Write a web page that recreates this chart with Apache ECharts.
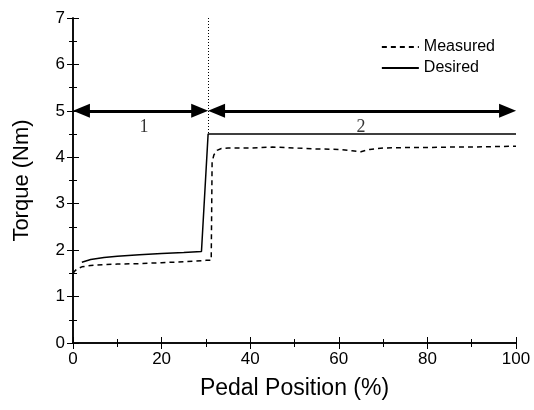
<!DOCTYPE html>
<html>
<head>
<meta charset="utf-8">
<script src="https://cdn.jsdelivr.net/npm/echarts@6/dist/echarts.min.js"></script>
<style>
  html, body { margin: 0; padding: 0; background: #fff; }
  #main { width: 534px; height: 410px; }
</style>
</head>
<body>
<div id="main"></div>
<script>
// data
var measuredX = [0, 0.5, 1, 2, 4, 7, 10, 15, 20, 25, 30, 31.2, 31.4, 31.8, 32.5, 33.5, 35, 40, 45, 50, 55, 60, 63, 65, 67, 70, 75, 80, 85, 90, 95, 100];
var measuredY = [1.5, 1.56, 1.6, 1.64, 1.67, 1.69, 1.70, 1.71, 1.73, 1.75, 1.78, 1.78, 3.9, 4.05, 4.15, 4.19, 4.2, 4.2, 4.22, 4.2, 4.18, 4.17, 4.14, 4.12, 4.17, 4.2, 4.21, 4.21, 4.22, 4.22, 4.23, 4.24];
var desiredX = [2, 4, 7, 10, 15, 20, 25, 29, 30.5, 100];
var desiredY = [1.74, 1.80, 1.84, 1.87, 1.90, 1.93, 1.95, 1.97, 4.5, 4.5];
var stepX = 30.5;
var regionLabels = [[16, 4.65, '1'], [65, 4.65, '2']];
// arrow ends are pulled in by half a head so the tips land on 0, 30.5 and 100
var arrowHalf = 1.9;

function pairs(xs, ys) {
  return xs.map(function (x, i) { return [x, ys[i]]; });
}

var chart = echarts.init(document.getElementById('main'));

var font = 'Liberation Sans, Arial, sans-serif';
var axisLine = { lineStyle: { color: '#000', width: 1.5 } };
var tick = { inside: true, length: 6, lineStyle: { color: '#000' } };
var minor = { show: true, splitNumber: 2, length: 4, lineStyle: { color: '#000' } };
var arrowLine = { type: 'solid', width: 3, color: '#000' };

function arrow(x1, x2) {
  return [
    { coord: [x1 + arrowHalf, 5], symbol: 'triangle', symbolSize: [14, 17], lineStyle: arrowLine },
    { coord: [x2 - arrowHalf, 5], symbol: 'triangle', symbolSize: [14, 17] }
  ];
}

var option = {
  animation: false,
  backgroundColor: '#fff',
  grid: { left: 73, right: 18, top: 18, bottom: 67 },
  legend: {
    data: ['Measured', 'Desired'],
    orient: 'vertical',
    right: 34,
    top: 34,
    itemWidth: 37,
    itemHeight: 10,
    itemGap: 5,
    itemStyle: { opacity: 0 },
    textStyle: { fontFamily: font, fontSize: 16, color: '#000' }
  },
  xAxis: [{
    type: 'value', min: 0, max: 100, interval: 20,
    name: 'Pedal Position (%)', nameLocation: 'middle', nameGap: 34,
    nameTextStyle: { fontFamily: font, fontSize: 23, color: '#000' },
    axisLine: axisLine, axisTick: tick, minorTick: minor,
    axisLabel: { fontFamily: font, fontSize: 17, color: '#000', margin: 8 },
    splitLine: { show: false }
  }, {
    type: 'value', min: 0, max: 100, interval: 20, position: 'top',
    axisLine: axisLine, axisTick: tick, minorTick: minor,
    axisLabel: { show: false },
    splitLine: { show: false }
  }],
  yAxis: [{
    type: 'value', min: 0, max: 7, interval: 1,
    name: 'Torque (Nm)', nameLocation: 'middle', nameGap: 40,
    nameTextStyle: { fontFamily: font, fontSize: 22, color: '#000' },
    axisLine: axisLine, axisTick: tick, minorTick: minor,
    axisLabel: { fontFamily: font, fontSize: 17, color: '#000', margin: 8 },
    splitLine: { show: false }
  }, {
    type: 'value', min: 0, max: 7, interval: 1, position: 'right',
    axisLine: axisLine, axisTick: tick, minorTick: minor,
    axisLabel: { show: false },
    splitLine: { show: false }
  }],
  series: [{
    name: 'Measured',
    type: 'line',
    data: pairs(measuredX, measuredY),
    symbol: 'none',
    color: '#000',
    lineStyle: { color: '#000', width: 1.5, type: [5, 4] }
  }, {
    name: 'Desired',
    type: 'line',
    data: pairs(desiredX, desiredY),
    symbol: 'none',
    color: '#000',
    lineStyle: { color: '#000', width: 1.5, type: 'solid' }
  }, {
    name: 'regions',
    type: 'scatter',
    data: regionLabels,
    symbolSize: 0,
    label: {
      show: true, position: 'inside',
      formatter: function (p) { return p.data[2]; },
      fontFamily: 'Liberation Serif, Times New Roman, serif', fontSize: 18, color: '#000'
    },
    markLine: {
      silent: true,
      symbol: 'none',
      label: { show: false },
      data: [
        [{ coord: [stepX, 7], lineStyle: { type: [1, 2], width: 1, color: '#000' } }, { coord: [stepX, 4.5] }],
        arrow(0, stepX),
        arrow(stepX, 100)
      ]
    }
  }]
};

chart.setOption(option);
</script>
</body>
</html>
